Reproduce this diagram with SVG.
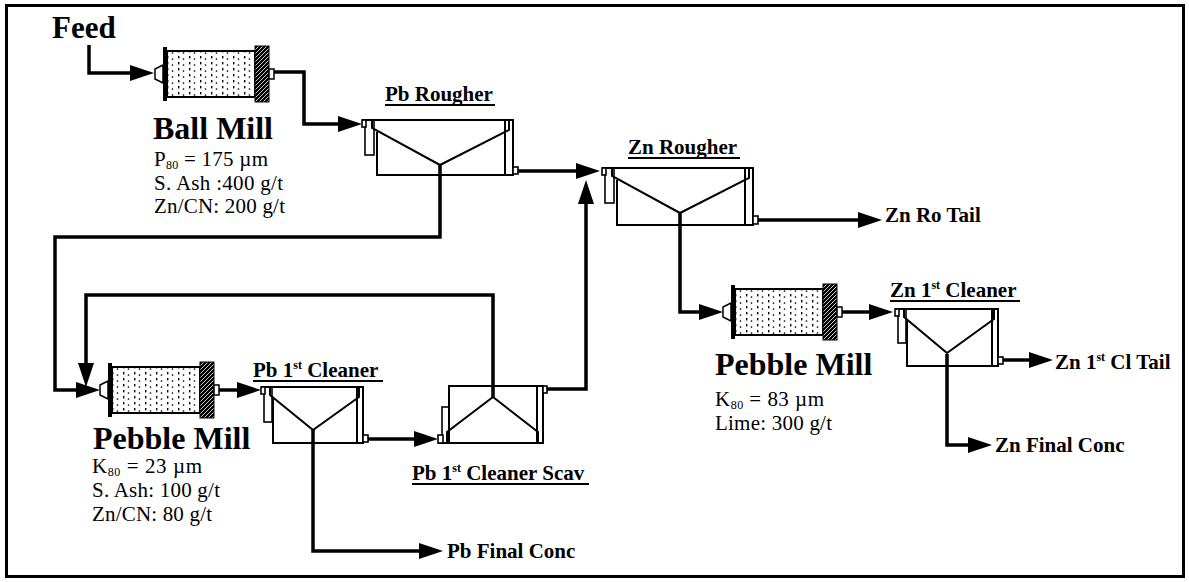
<svg xmlns="http://www.w3.org/2000/svg" xmlns:xlink="http://www.w3.org/1999/xlink" width="1189" height="582" viewBox="0 0 1189 582">
<style>
text{font-family:"Liberation Serif","Times New Roman",serif;fill:#000}
.lbl{font-weight:bold;font-size:21px}
.big{font-weight:bold;font-size:32px}
.note{font-size:21px}
.feed{font-weight:bold;font-size:31px}
.pipe{fill:none;stroke:#000;stroke-width:3.5;stroke-linejoin:miter}
.cell{fill:none;stroke:#000;stroke-width:2}
.cellw{fill:#fff;stroke:#000;stroke-width:1.6}
.ul{stroke:#000;stroke-width:1.8}
</style>
<defs>
<marker id="ah" viewBox="0 0 24 16" refX="14" refY="8" markerWidth="24" markerHeight="16" markerUnits="userSpaceOnUse" orient="auto">
<path d="M0,0 L24,8 L0,16 Z" fill="#000"/>
</marker>
<pattern id="dots" x="0" y="0" width="11" height="6" patternUnits="userSpaceOnUse">
<rect width="11" height="6" fill="#fff"/>
<rect x="1" y="0" width="1.4" height="2.4" fill="#000"/>
<circle cx="6.5" cy="3" r="0.85" fill="#000"/>
</pattern>
<pattern id="hatch" x="0" y="0" width="4" height="4" patternUnits="userSpaceOnUse">
<rect width="4" height="4" fill="#000"/>
<path d="M0,4 L4,0 M-1,1 L1,-1 M3,5 L5,3" stroke="#fff" stroke-width="0.8"/>
</pattern>
<g id="mill">
<path d="M0,-5 L8,-9 L8,9 L0,5 Z" fill="#fff" stroke="#000" stroke-width="1.5"/>
<rect x="8" y="-27" width="4" height="54" fill="#000"/>
<rect x="12" y="-23" width="88" height="46" fill="url(#dots)" stroke="#000" stroke-width="2"/>
<rect x="100" y="-28" width="14" height="56" fill="url(#hatch)" stroke="#000" stroke-width="1"/>
<rect x="114" y="-5" width="5" height="10" fill="#fff" stroke="#000" stroke-width="1.5"/>
</g>
</defs>
<rect x="6.5" y="5.5" width="1177" height="571" fill="#fff" stroke="#000" stroke-width="3"/>

<g id="connectors">
<path class="pipe" marker-end="url(#ah)" d="M89,45 V73 H144"/>
<path class="pipe" marker-end="url(#ah)" d="M273,72 H304 V124 H352"/>
<path class="pipe" marker-end="url(#ah)" d="M440,165 V237 H55 V390 H90"/>
<path class="pipe" marker-end="url(#ah)" d="M493,397 V295 H86 V377"/>
<path class="pipe" marker-end="url(#ah)" d="M218,390 H251"/>
<path class="pipe" marker-end="url(#ah)" d="M367,439 H428"/>
<path class="pipe" marker-end="url(#ah)" d="M313,430 V551 H433"/>
<path class="pipe" marker-end="url(#ah)" d="M518,171 H590"/>
<path class="pipe" marker-end="url(#ah)" d="M547,389 H586 V190"/>
<path class="pipe" marker-end="url(#ah)" d="M757,220 H872"/>
<path class="pipe" marker-end="url(#ah)" d="M680,213 V312 H713"/>
<path class="pipe" marker-end="url(#ah)" d="M842,312 H883"/>
<path class="pipe" marker-end="url(#ah)" d="M1003,360 H1043"/>
<path class="pipe" marker-end="url(#ah)" d="M947,354 V445 H982"/>
</g>

<g id="feed">
<text class="feed" x="52" y="38">Feed</text>
</g>

<g id="ball-mill">
<use xlink:href="#mill" href="#mill" transform="translate(155,74)"/>
<text class="big" x="153" y="139">Ball Mill</text>
<text class="note" x="154" y="166" textLength="114">P<tspan font-size="12" dy="3">80</tspan><tspan dy="-3"> = 175 µm</tspan></text>
<text class="note" x="154" y="190" textLength="129">S. Ash :400 g/t</text>
<text class="note" x="154" y="213" textLength="131">Zn/CN: 200 g/t</text>
</g>

<g id="pb-rougher" transform="translate(362,120)">
<rect class="cellw" x="3" y="0" width="9" height="35"/>
<path class="cell" d="M0,0 H151 V55 H15 V12"/>
<path class="cell" d="M143,0 V55"/>
<path class="cell" d="M10,0 V8 L78,45 L147,10 V0"/>
<rect class="cellw" x="0" y="0" width="4" height="7"/>
<rect class="cellw" x="151" y="47" width="5" height="7"/>
<text class="lbl" x="23" y="-19">Pb Rougher</text>
<line class="ul" x1="23" y1="-15" x2="133" y2="-15"/>
</g>

<g id="zn-rougher" transform="translate(602,168)">
<rect class="cellw" x="3" y="0" width="9" height="35"/>
<path class="cell" d="M0,0 H151 V57 H15 V12"/>
<path class="cell" d="M143,0 V57"/>
<path class="cell" d="M10,0 V8 L78,45 L147,10 V0"/>
<rect class="cellw" x="0" y="0" width="4" height="7"/>
<rect class="cellw" x="151" y="48" width="5" height="8"/>
<text class="lbl" x="26" y="-14">Zn Rougher</text>
<line class="ul" x1="26" y1="-10" x2="138" y2="-10"/>
</g>

<g id="zn-ro-tail">
<text class="lbl" x="885" y="222">Zn Ro Tail</text>
</g>

<g id="pebble-mill-1">
<use xlink:href="#mill" href="#mill" transform="translate(100,390)"/>
<text class="big" x="93" y="449">Pebble Mill</text>
<text class="note" x="92" y="473" textLength="110">K<tspan font-size="12" dy="3">80</tspan><tspan dy="-3"> = 23 µm</tspan></text>
<text class="note" x="92" y="497" textLength="128">S. Ash: 100 g/t</text>
<text class="note" x="92" y="521" textLength="120">Zn/CN: 80 g/t</text>
</g>

<g id="pb-1st-cleaner" transform="translate(261,387)">
<rect class="cellw" x="3" y="0" width="8" height="35"/>
<path class="cell" d="M0,0 H102 V56 H12 V12"/>
<path class="cell" d="M96,0 V56"/>
<path class="cell" d="M9,0 V8 L52,43 L98,10 V0"/>
<rect class="cellw" x="0" y="0" width="4" height="7"/>
<rect class="cellw" x="102" y="48" width="5" height="7"/>
<text class="lbl" x="-8" y="-10">Pb 1<tspan font-size="12" dy="-8">st</tspan><tspan dy="8"> Cleaner</tspan></text>
<line class="ul" x1="-8" y1="-6" x2="122" y2="-6"/>
</g>

<g id="pb-1st-cleaner-scav">
<g transform="translate(438,443) scale(1,-1)">
<rect class="cellw" x="4" y="0" width="7" height="36"/>
<path class="cell" d="M0,0 H105 V57 H11 V0"/>
<path class="cell" d="M99,0 V57"/>
<path class="cell" d="M9,0 V11 L55,46 L100,11 V0"/>
<rect class="cellw" x="0" y="0" width="5" height="8"/>
<rect class="cellw" x="105" y="50" width="4" height="7"/>
</g>
<text class="lbl" x="412" y="480">Pb 1<tspan font-size="12" dy="-8">st</tspan><tspan dy="8"> Cleaner Scav</tspan></text>
<line class="ul" x1="412" y1="484" x2="589" y2="484"/>
</g>

<g id="pb-final-conc">
<text class="lbl" x="447" y="558">Pb Final Conc</text>
</g>

<g id="pebble-mill-2">
<use xlink:href="#mill" href="#mill" transform="translate(723,312)"/>
<text class="big" x="715" y="375">Pebble Mill</text>
<text class="note" x="715" y="406" textLength="109">K<tspan font-size="12" dy="3">80</tspan><tspan dy="-3"> = 83 µm</tspan></text>
<text class="note" x="715" y="430" textLength="117">Lime: 300 g/t</text>
</g>

<g id="zn-1st-cleaner" transform="translate(895,309)">
<rect class="cellw" x="3" y="0" width="8" height="34"/>
<path class="cell" d="M0,0 H103 V57 H12 V12"/>
<path class="cell" d="M97,0 V57"/>
<path class="cell" d="M9,0 V8 L52,44 L99,10 V0"/>
<rect class="cellw" x="0" y="0" width="4" height="7"/>
<rect class="cellw" x="103" y="48" width="5" height="7"/>
<text class="lbl" x="-5" y="-12">Zn 1<tspan font-size="12" dy="-8">st</tspan><tspan dy="8"> Cleaner</tspan></text>
<line class="ul" x1="-5" y1="-8" x2="125" y2="-8"/>
</g>

<g id="zn-1st-cl-tail">
<text class="lbl" x="1055" y="369">Zn 1<tspan font-size="12" dy="-8">st</tspan><tspan dy="8"> Cl Tail</tspan></text>
</g>

<g id="zn-final-conc">
<text class="lbl" x="995" y="452">Zn Final Conc</text>
</g>
</svg>
